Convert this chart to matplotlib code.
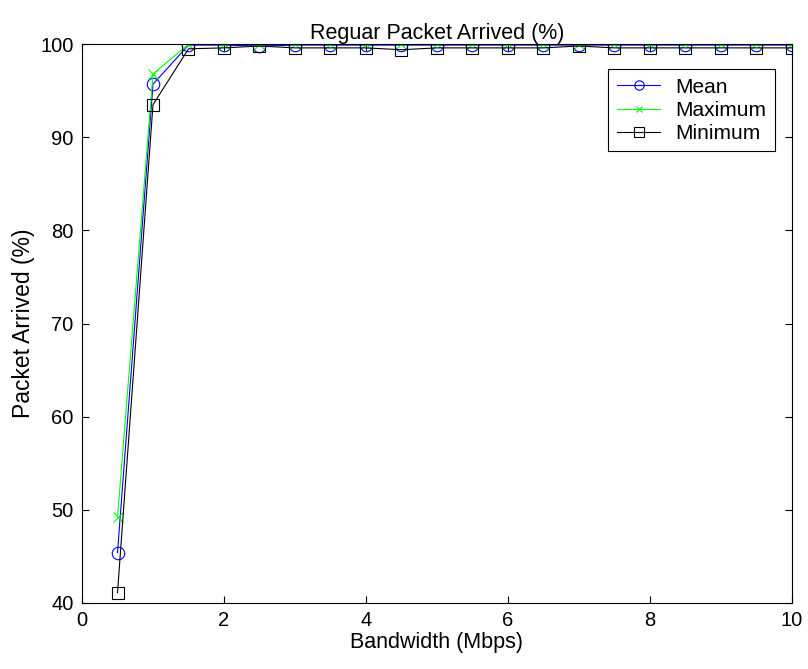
import matplotlib
matplotlib.use("Agg")
import matplotlib.pyplot as plt

plt.rcParams['font.family'] = ['Liberation Sans', 'DejaVu Sans']

bandwidth = [0.5, 1.0, 1.5, 2.0, 2.5, 3.0, 3.5, 4.0, 4.5, 5.0,
             5.5, 6.0, 6.5, 7.0, 7.5, 8.0, 8.5, 9.0, 9.5, 10.0]
mean_arrived = [45.4, 95.7, 99.9, 99.9, 99.8, 99.9, 99.9, 99.9, 99.9, 99.9,
                99.9, 99.9, 99.9, 99.9, 99.9, 99.9, 99.9, 99.9, 99.9, 99.9]
max_arrived = [49.2, 96.8, 100.0, 100.0, 100.0, 100.0, 100.0, 100.0, 100.0, 100.0,
               100.0, 100.0, 100.0, 100.0, 100.0, 100.0, 100.0, 100.0, 100.0, 100.0]
min_arrived = [41.1, 93.5, 99.5, 99.6, 99.8, 99.6, 99.6, 99.6, 99.4, 99.6,
               99.6, 99.6, 99.6, 99.8, 99.6, 99.6, 99.6, 99.6, 99.6, 99.6]

fig = plt.figure(figsize=(8.08, 6.69), dpi=100)
ax = fig.add_axes([0.1015, 0.0987, 0.8785, 0.8353])

ax.plot(bandwidth, mean_arrived, color='#0000ff', lw=0.8, marker='o',
        ms=9, mfc='none', mec='#0000ff', mew=0.8, label='Mean')
ax.plot(bandwidth, max_arrived, color='#00ff00', lw=0.8, marker='x',
        ms=6.5, mec='#00ff00', mew=0.8, label='Maximum')
ax.plot(bandwidth, min_arrived, color='black', lw=0.8, marker='s',
        ms=9, mfc='none', mec='black', mew=0.8, label='Minimum')

ax.set_xlim(0, 10)
ax.set_ylim(40, 100)
ax.set_xticks([0, 2, 4, 6, 8, 10])
ax.set_yticks([40, 50, 60, 70, 80, 90, 100])
ax.tick_params(direction='in', top=True, right=True, labelsize=14.5, length=5, pad=6)
for s in ax.spines.values():
    s.set_linewidth(0.8)

ax.set_title('Reguar Packet Arrived (%)', fontsize=15.5, pad=4)
ax.set_xlabel('Bandwidth (Mbps)', fontsize=15.5, labelpad=1)
ax.set_ylabel('Packet Arrived (%)', fontsize=16.5, labelpad=4)

leg = ax.legend(loc='upper right', bbox_to_anchor=(0.976, 0.955), borderaxespad=0,
                fontsize=15, frameon=True, fancybox=False, edgecolor='black',
                framealpha=1, handlelength=2.1, borderpad=0.4, labelspacing=0.2,
                handletextpad=0.72, markerscale=0.75)
leg.get_frame().set_linewidth(0.8)

fig.savefig('out.png', dpi=100)
